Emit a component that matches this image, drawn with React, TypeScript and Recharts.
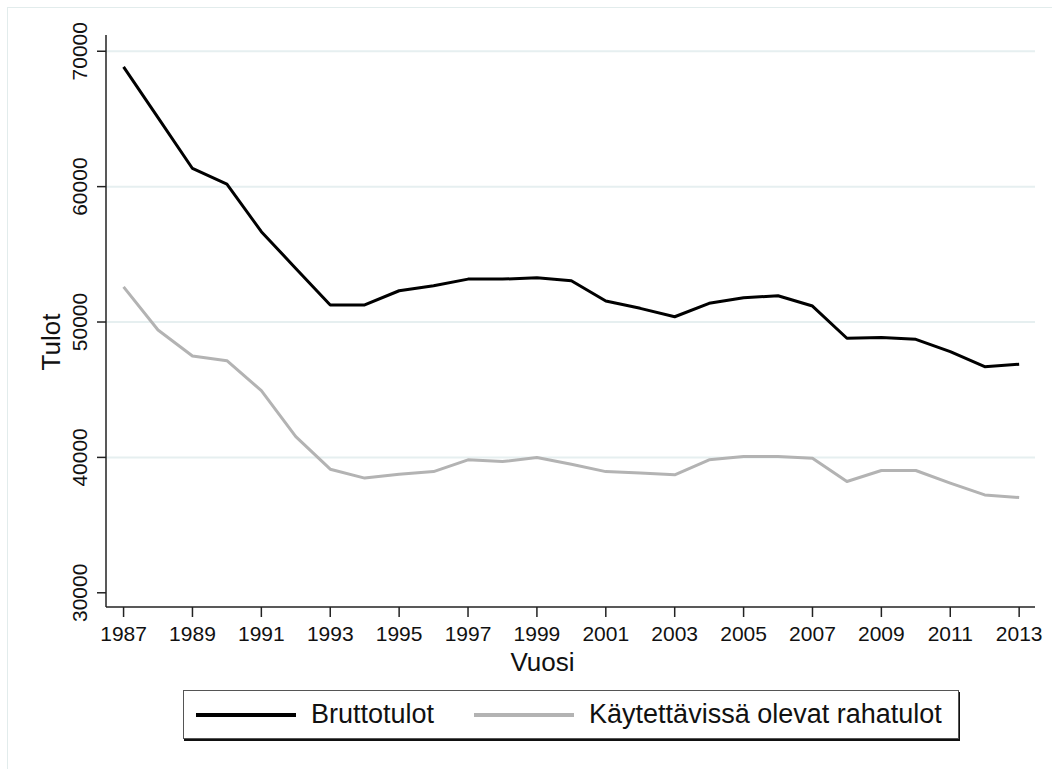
import { LineChart, Line, XAxis, YAxis, ReferenceLine, Label } from 'recharts'

const years = [
  1987, 1988, 1989, 1990, 1991, 1992, 1993, 1994, 1995, 1996, 1997, 1998, 1999, 2000,
  2001, 2002, 2003, 2004, 2005, 2006, 2007, 2008, 2009, 2010, 2011, 2012, 2013,
]
const bruttotulot = [
  68840, 65100, 61340, 60190, 56670, 53960, 51260, 51260, 52310, 52680, 53170, 53170, 53270, 53050,
  51550, 51010, 50390, 51380, 51790, 51940, 51180, 48800, 48850, 48720, 47810, 46700, 46880,
]
const kaytettavissa = [
  52600, 49410, 47490, 47140, 44930, 41540, 39130, 38470, 38760, 38950, 39820, 39690, 39990, 39500,
  38950, 38840, 38710, 39820, 40060, 40060, 39940, 38220, 39030, 39030, 38100, 37230, 37040,
]
const xTicks = [1987, 1989, 1991, 1993, 1995, 1997, 1999, 2001, 2003, 2005, 2007, 2009, 2011, 2013]
const yTicks = [30000, 40000, 50000, 60000, 70000]
const gridValues = [40000, 50000, 60000, 70000]

const FONT = '"Liberation Sans", Arial, sans-serif'
const AXIS = '#222'

const data = years.map((year, i) => ({
  year,
  brutto: bruttotulot[i],
  kaytettavissa: kaytettavissa[i],
}))

// Stata style tick labels
function XTick({ x, y, payload }: any) {
  return (
    <text x={x} y={y} dy={24} textAnchor="middle" fontSize={21} fontFamily={FONT} fill="#111">
      {payload.value}
    </text>
  )
}

function YTick({ x, y, payload }: any) {
  const tx = x - 10
  return (
    <text
      x={tx}
      y={y}
      transform={`rotate(-90 ${tx} ${y})`}
      textAnchor="middle"
      fontSize={21}
      fontFamily={FONT}
      fill="#111"
    >
      {payload.value}
    </text>
  )
}

export default function App() {
  return (
    <div style={{ position: 'absolute', left: 0, top: 0, width: 1052, height: 769, background: '#fff' }}>
      <div
        style={{
          position: 'absolute',
          left: 7,
          top: 7,
          width: 1045,
          height: 762,
          borderLeft: '1px solid #e2ecec',
          borderTop: '1px solid #e2ecec',
        }}
      />
      <LineChart width={1052} height={769} data={data} margin={{ top: 35, right: 17, bottom: 102, left: 0 }}>
        <XAxis
          dataKey="year"
          type="number"
          domain={[1986.49, 2013.46]}
          ticks={xTicks}
          allowDataOverflow
          height={60}
          tickSize={10}
          tickMargin={0}
          tick={<XTick />}
          axisLine={{ stroke: AXIS, strokeWidth: 1.5 }}
          tickLine={{ stroke: AXIS, strokeWidth: 1.5 }}
        >
          <Label
            content={({ viewBox }: any) => (
              <text
                x={viewBox.x + viewBox.width / 2 - 28}
                y={viewBox.y + 64}
                textAnchor="middle"
                fontSize={26}
                fontFamily={FONT}
                fill="#111"
              >
                Vuosi
              </text>
            )}
          />
        </XAxis>
        <YAxis
          type="number"
          domain={[28950, 71200]}
          ticks={yTicks}
          allowDataOverflow
          width={106}
          tickSize={9}
          tickMargin={0}
          tick={<YTick />}
          axisLine={{ stroke: AXIS, strokeWidth: 1.5 }}
          tickLine={{ stroke: AXIS, strokeWidth: 1.5 }}
        >
          <Label
            content={({ viewBox }: any) => {
              const cx = 60
              const cy = viewBox.y + viewBox.height / 2 + 21
              return (
                <text
                  x={cx}
                  y={cy}
                  transform={`rotate(-90 ${cx} ${cy})`}
                  textAnchor="middle"
                  fontSize={26}
                  fontFamily={FONT}
                  fill="#111"
                >
                  Tulot
                </text>
              )
            }}
          />
        </YAxis>
        {gridValues.map((v) => (
          <ReferenceLine key={v} y={v} stroke="#e6eff0" strokeWidth={2} />
        ))}
        <Line
          type="linear"
          dataKey="brutto"
          stroke="#000"
          strokeWidth={3}
          dot={false}
          strokeLinejoin="round"
          isAnimationActive={false}
        />
        <Line
          type="linear"
          dataKey="kaytettavissa"
          stroke="#b3b3b3"
          strokeWidth={3}
          dot={false}
          strokeLinejoin="round"
          isAnimationActive={false}
        />
      </LineChart>
      <div
        style={{
          position: 'absolute',
          left: 183,
          top: 690,
          width: 776,
          height: 49,
          border: '1px solid #555',
          boxShadow: '1px 2px 0 #111',
          display: 'flex',
          alignItems: 'center',
          fontFamily: FONT,
          fontSize: 27,
          color: '#111',
          boxSizing: 'border-box',
        }}
      >
        <span style={{ marginLeft: 12, width: 100, height: 4, background: '#000', display: 'inline-block' }} />
        <span style={{ marginLeft: 15 }}>Bruttotulot</span>
        <span style={{ marginLeft: 40, width: 100, height: 4, background: '#b3b3b3', display: 'inline-block' }} />
        <span style={{ marginLeft: 15 }}>Käytettävissä olevat rahatulot</span>
      </div>
    </div>
  )
}
